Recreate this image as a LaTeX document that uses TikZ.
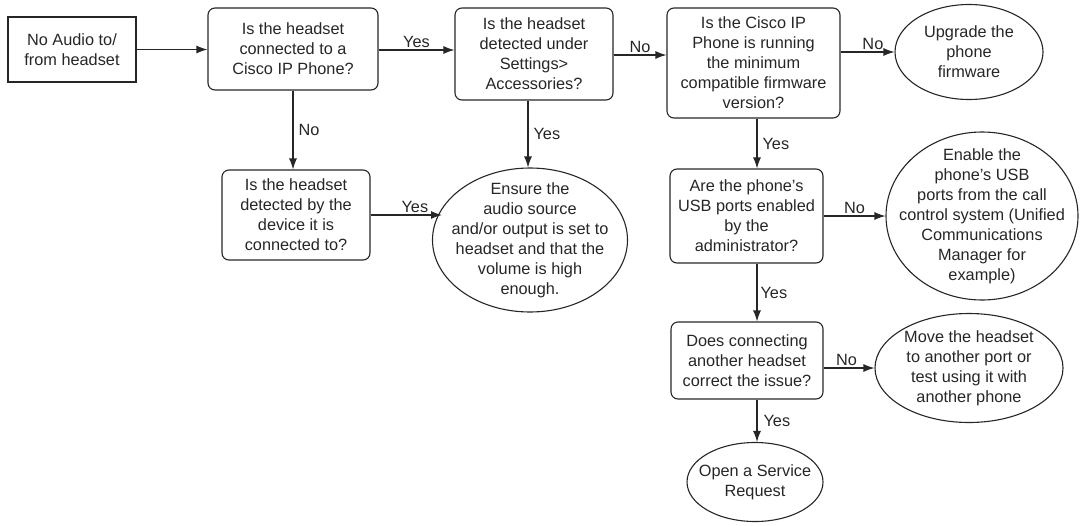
\documentclass[tikz,border=0pt]{standalone}
\usepackage{fontspec}
\setmainfont{Liberation Sans}
\usetikzlibrary{arrows.meta,shapes.geometric}
\definecolor{ink}{HTML}{262626}
\begin{document}
\begin{tikzpicture}[x=1pt,y=-1pt,
  every node/.style={font=\fontsize{16.3}{20}\selectfont, text=ink},
  sqbox/.style={draw=ink, line width=1.1pt, align=center, inner sep=0pt},
  rbox/.style={sqbox, rounded corners=7pt},
  oval/.style={draw=ink, line width=1.1pt, ellipse, inner sep=0pt},
  otext/.style={align=center, inner sep=0pt},
  link/.style={draw=ink, line width=1.1pt, -{Latex[length=11pt,width=8pt]}},
  lab/.style={inner sep=2pt}
]
\path[use as bounding box] (0,0) rectangle (1081,525);

\node[sqbox, minimum width=128pt, minimum height=65pt] (A) at (72,49.5) {No Audio to/\\from headset};
\node[rbox, minimum width=170pt, minimum height=82pt] (B) at (293,49) {Is the headset\\connected to a\\Cisco IP Phone?};
\node[rbox, minimum width=158pt, minimum height=92pt] (C) at (534,54) {Is the headset\\detected under\\Settings>\\Accessories?};
\node[rbox, minimum width=173pt, minimum height=110pt] (D) at (753.5,63) {Is the Cisco IP\\Phone is running\\the minimum\\compatible firmware\\version?};
\node[oval, minimum width=148pt, minimum height=95pt,
  label={[otext]center:Upgrade the\\phone\\firmware}] (E) at (969,52) {};
\node[rbox, minimum width=148pt, minimum height=90pt] (F) at (296,215) {Is the headset\\detected by the\\device it is\\connected to?};
\node[oval, minimum width=195pt, minimum height=144pt,
  label={[otext]center:Ensure the\\audio source\\and/or output is set to\\headset and that the\\volume is high\\enough.}] (G) at (530,240) {};
\node[rbox, minimum width=153pt, minimum height=94pt] (H) at (746.5,216) {Are the phone's\\USB ports enabled\\by the\\administrator?};
\node[oval, minimum width=192pt, minimum height=168pt,
  label={[otext]center:Enable the\\phone's USB\\ports from the call\\control system (Unified\\Communications\\Manager for\\example)}] (I) at (982,216) {};
\node[rbox, minimum width=152pt, minimum height=77pt] (J) at (747,360.5) {Does connecting\\another headset\\correct the issue?};
\node[oval, minimum width=188pt, minimum height=109pt,
  label={[otext]center:Move the headset\\to another port or\\test using it with\\another phone}] (K) at (969,368) {};
\node[oval, minimum width=136pt, minimum height=79pt,
  label={[otext]center:Open a Service\\Request}] (L) at (755,482) {};

\coordinate (colx) at (757,0);
\coordinate (colg) at (528,0);

\draw[link] (A.east) -- (A.east -| B.west);
\draw[link] (B.east |- 0,50) -- (C.west |- 0,50) node[lab, midway, above] {Yes};
\draw[link] (C.east |- 0,55) -- (D.west |- 0,55) node[lab, midway, above] {No};
\draw[link] (D.east |- E.west) -- (E.west) node[lab, pos=0.6, above] {No};
\draw[link] (B.south) -- (B.south |- F.north) node[lab, midway, right, xshift=3pt] {No};
\draw[link] (F.east) -- (F.east -| G.160) node[lab, pos=0.62, above] {Yes};
\draw[link] (colg |- C.south) -- (colg |- G.north) node[lab, midway, right, xshift=3pt] {Yes};
\draw[link] (colx |- D.south) -- (colx |- H.north) node[lab, midway, right, xshift=3pt] {Yes};
\draw[link] (H.east) -- (H.east -| I.west) node[lab, midway, above] {No};
\draw[link] (colx |- H.south) -- (colx |- J.north) node[lab, midway, right, xshift=1pt] {Yes};
\draw[link] (J.east |- K.west) -- (K.west) node[lab, pos=0.45, above] {No};
\draw[link] (colx |- J.south) -- (colx |- L.north) node[lab, midway, right, xshift=4pt] {Yes};
\end{tikzpicture}
\end{document}
